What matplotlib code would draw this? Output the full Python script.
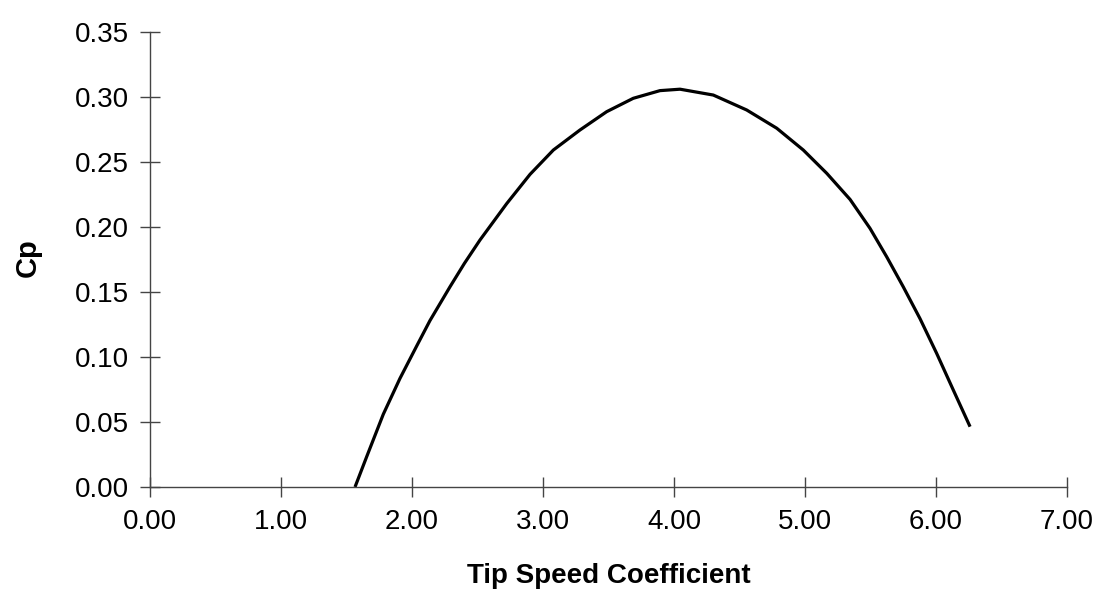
import matplotlib
matplotlib.use("Agg")
import matplotlib.pyplot as plt
from matplotlib.ticker import FormatStrFormatter

# Cp vs tip speed coefficient
tsr = [1.565, 1.654, 1.781, 1.908, 2.036, 2.137, 2.29, 2.40, 2.519,
       2.723, 2.901, 3.079, 3.282, 3.486, 3.689, 3.893, 4.046, 4.30, 4.555,
       4.784, 4.987, 5.166, 5.344, 5.496, 5.624, 5.75, 5.878, 6.005, 6.132,
       6.26]
cp = [0.000, 0.0233, 0.0560, 0.0835, 0.1085, 0.128, 0.154, 0.172, 0.190,
      0.218, 0.2405, 0.2592, 0.2746, 0.2887, 0.299, 0.3049, 0.306,
      0.3015, 0.290, 0.276, 0.2592, 0.2413, 0.2212, 0.1990, 0.177, 0.154,
      0.1295, 0.1028, 0.0746, 0.0464]

x_ticks = [0, 1, 2, 3, 4, 5, 6, 7]
y_ticks = [0.00, 0.05, 0.10, 0.15, 0.20, 0.25, 0.30, 0.35]

plt.rcParams['font.family'] = ['Liberation Sans', 'DejaVu Sans']

fig = plt.figure(figsize=(10.99, 5.99), dpi=100)
ax = fig.add_axes([150/1099, 1-487/599, 917/1099, 455/599])

ax.plot(tsr, cp, color='black', lw=2.3, solid_joinstyle='round',
        solid_capstyle='butt')

ax.set_xlim(0, 7)
ax.set_ylim(0, 0.35)
ax.set_xticks(x_ticks)
ax.set_yticks(y_ticks)
ax.xaxis.set_major_formatter(FormatStrFormatter('%.2f'))
ax.yaxis.set_major_formatter(FormatStrFormatter('%.2f'))

for s in ['top', 'right']:
    ax.spines[s].set_visible(False)
for s in ['left', 'bottom']:
    ax.spines[s].set_color('#444444')
    ax.spines[s].set_linewidth(1.0)

ax.tick_params(axis='both', direction='inout', length=14, width=1.0,
               color='#444444', labelsize=20)
ax.tick_params(axis='x', pad=9)
ax.tick_params(axis='y', pad=8)

ax.set_xlabel('Tip Speed Coefficient', fontsize=20, fontweight='bold')
ax.xaxis.set_label_coords(0.5, -0.167)
ax.set_ylabel('Cp', fontsize=21, fontweight='bold')
ax.yaxis.set_label_coords(-0.118, 0.505)

fig.savefig('out.png', dpi=100)
